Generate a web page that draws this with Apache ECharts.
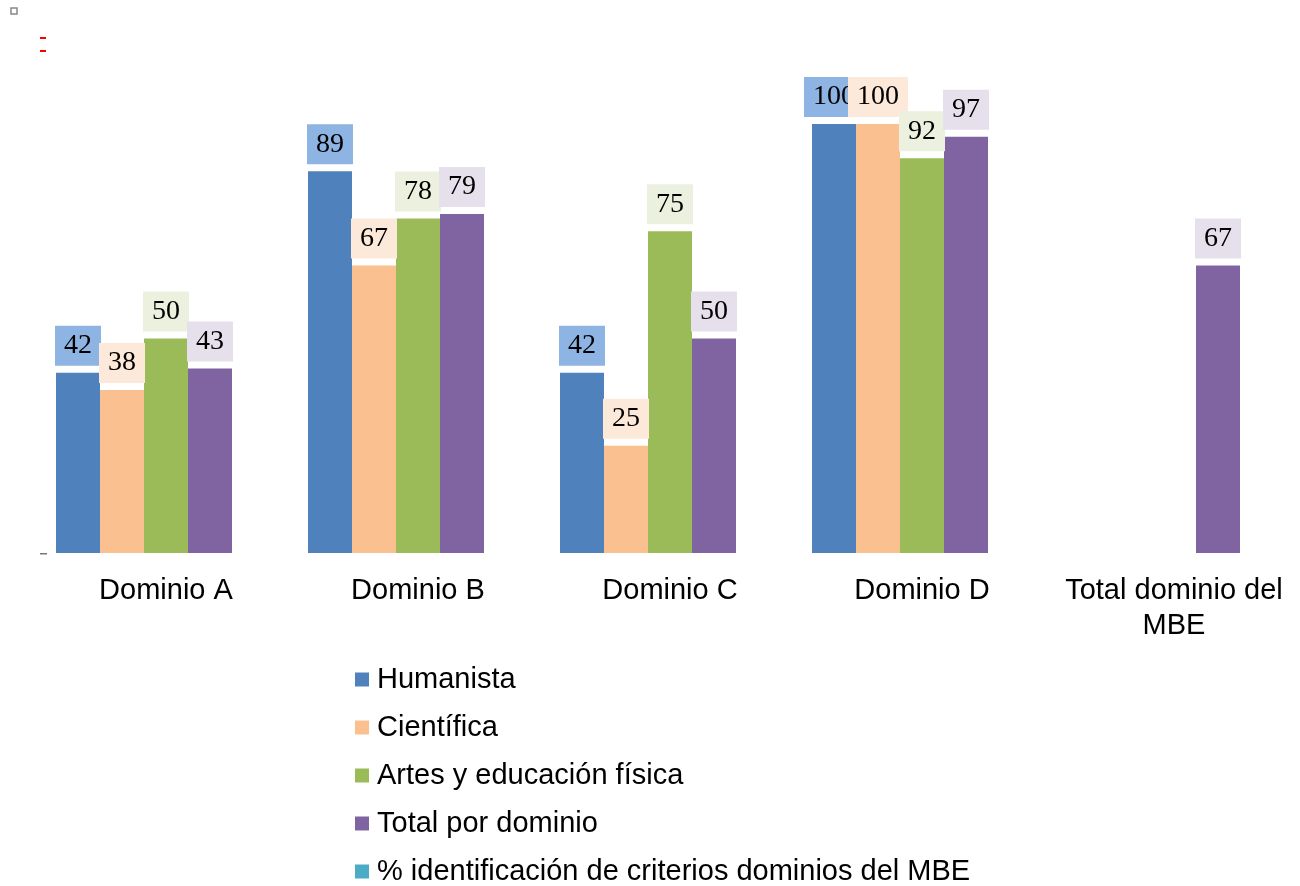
<!DOCTYPE html>
<html>
<head>
<meta charset="utf-8">
<title>Dominios MBE</title>
<script src="https://cdn.jsdelivr.net/npm/echarts@6/dist/echarts.min.js"></script>
<style>
  html, body { margin: 0; padding: 0; background: #fff; }
  #main { width: 1300px; height: 886px; }
</style>
</head>
<body>
<div id="main"></div>
<script>
// categorias y valores
const categories = ["Dominio A", "Dominio B", "Dominio C", "Dominio D", "Total dominio del\nMBE"];
const humanista = [42, 89, 42, 100, null];
const cientifica = [38, 67, 25, 100, null];
const artes = [50, 78, 75, 92, null];
const totalDominio = [43, 79, 50, 97, 67];
const identificacion = [null, null, null, null, null];

const seriesNames = [
  "Humanista",
  "Científica",
  "Artes y educación física",
  "Total por dominio",
  "% identificación de criterios dominios del MBE",
];
const barColors = ["#4F81BD", "#FAC090", "#9BBB59", "#8064A2", "#4BACC6"];
const boxColors = ["#8EB4E3", "#FDE9D9", "#EBF1DE", "#E5E0EC", "#DBEEF4"];

const chart = echarts.init(document.getElementById("main"));

function makeSeries(idx, data) {
  return {
    name: seriesNames[idx],
    type: "bar",
    data: data,
    barWidth: 44,
    barGap: "0%",
    itemStyle: { color: barColors[idx] },
    label: {
      show: true,
      position: "top",
      distance: 7,
      fontFamily: "Liberation Serif",
      fontSize: 28,
      lineHeight: 28,
      color: "#000",
      backgroundColor: boxColors[idx],
      padding: [6, 9, 6, 9],
    },
  };
}

const option = {
  animation: false,
  grid: {
    left: 40,
    right: 0,
    top: 124,
    bottom: 333,
  },
  xAxis: {
    type: "category",
    data: categories,
    axisLine: { show: false },
    axisTick: { show: false },
    axisLabel: {
      margin: 20,
      color: "#000",
      fontFamily: "Liberation Sans",
      fontSize: 29,
      lineHeight: 35,
      interval: 0,
    },
  },
  yAxis: {
    type: "value",
    min: 0,
    max: 100,
    show: false,
  },
  legend: {
    orient: "vertical",
    left: 355,
    top: 665,
    height: 300,
    padding: 0,
    icon: "rect",
    itemWidth: 14,
    itemHeight: 14,
    itemGap: 19,
    textStyle: {
      color: "#000",
      fontFamily: "Liberation Sans",
      fontSize: 29,
      lineHeight: 28,
      padding: [0, 0, 0, 3],
    },
    data: seriesNames,
  },
  graphic: [
    { type: "rect", shape: { x: 11, y: 8, width: 6, height: 6 }, style: { fill: "#fff", stroke: "#888", lineWidth: 1.5 } },
    { type: "rect", shape: { x: 40, y: 37, width: 6, height: 2 }, style: { fill: "#f00" } },
    { type: "rect", shape: { x: 40, y: 50, width: 6, height: 2 }, style: { fill: "#f00" } },
    { type: "rect", shape: { x: 40, y: 553, width: 7, height: 1.5 }, style: { fill: "#777" } },
  ],
  series: [
    makeSeries(0, humanista),
    makeSeries(1, cientifica),
    makeSeries(2, artes),
    makeSeries(3, totalDominio),
    makeSeries(4, identificacion),
  ],
};

chart.setOption(option);
</script>
</body>
</html>
